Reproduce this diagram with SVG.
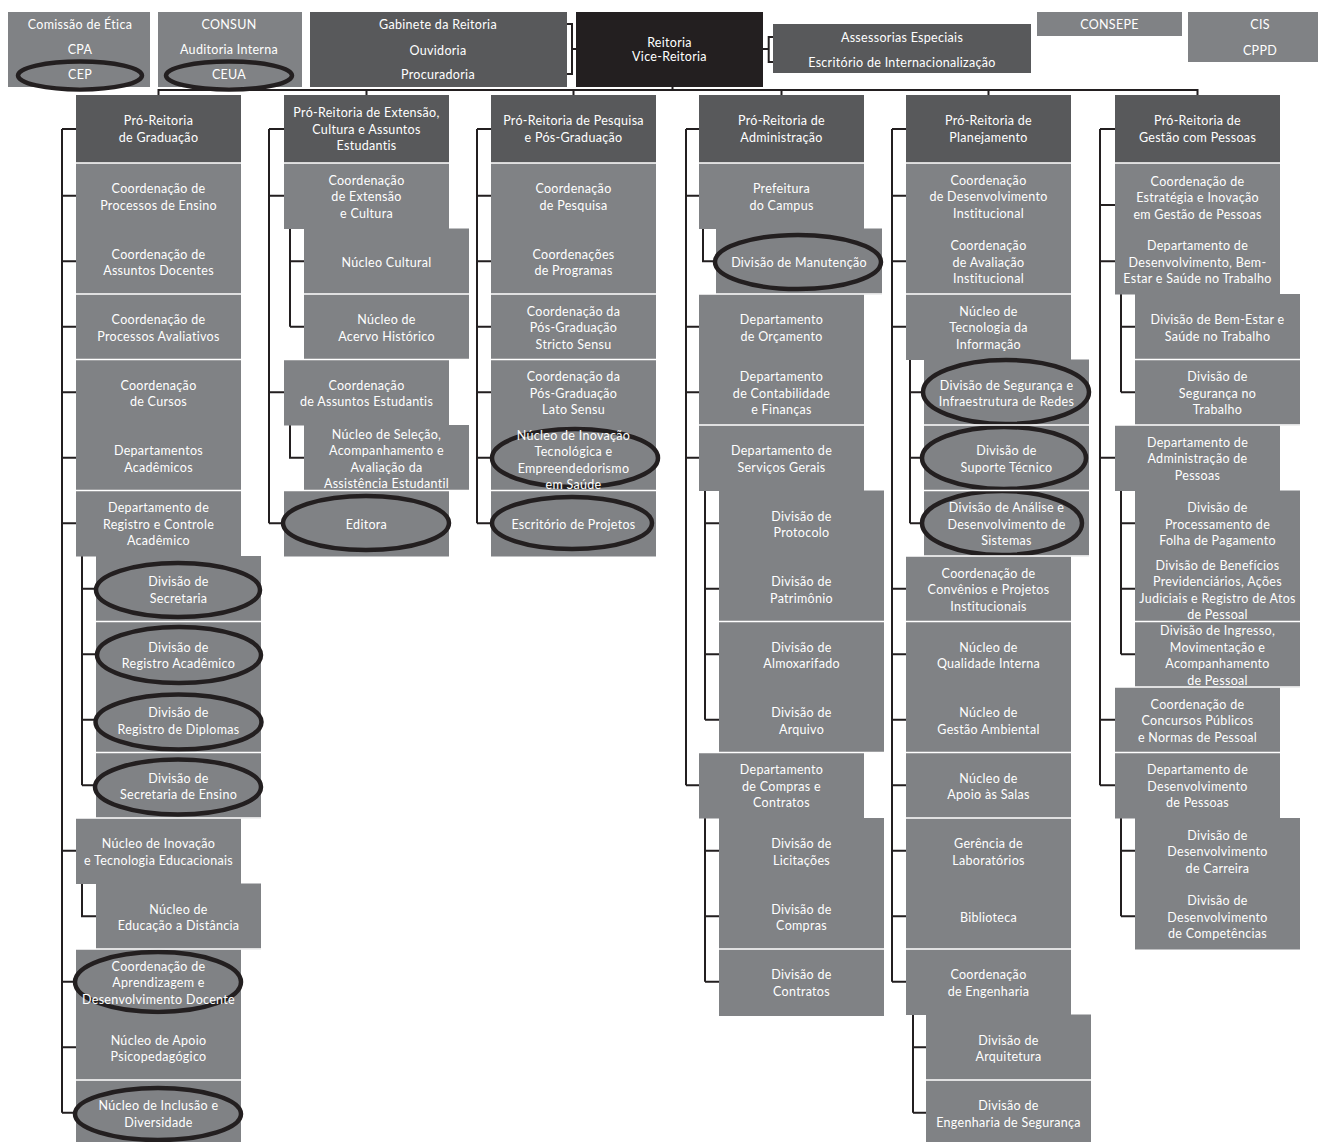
<svg xmlns="http://www.w3.org/2000/svg" width="1318" height="1142" viewBox="0 0 1318 1142">
<style>
.h{fill:#58595b}.l{fill:#808285}.k{fill:#231f20}
.t{font-family:Lato,"Open Sans",sans-serif;font-size:12.5px;letter-spacing:0.3px;fill:#ffffff;text-anchor:middle}
.c{stroke:#231f20;stroke-width:2;fill:none}
.s{stroke:#ffffff;stroke-width:1.5;fill:none}
.e{fill:none;stroke:#231f20;stroke-width:4.5}
</style>
<rect width="1318" height="1142" fill="#ffffff"/>
<g id="connectors">
<path class="c" d="M567,24H572V74H567M572,49H576M773,37H768.7V62H773M763,49H768.7M672.5,87V90M157.5,90H1198.5M158.5,90V95M366.5,90V95M573.5,90V95M781.5,90V95M988.5,90V95M1197.5,90V95"/>
<path class="c" d="M62,129V1112.75M62,129H76M62,195.75H76M62,261.25H76M62,326.75H76M62,392.25H76M62,457.75H76M62,523.25H76M62,850.75H76M62,981.75H76M62,1047.25H76M62,1112.75H76M82,556V785.25M82,588.75H96M82,654.25H96M82,719.75H96M82,785.25H96M82,883.5V916.25H96"/>
<path class="c" d="M269,129V523.25M269,129H284M269,195.75H284M269,392.25H284M269,523.25H284M290,228.5V326.75M290,261.25H304M290,326.75H304M290,425V457.75H304"/>
<path class="c" d="M477,129V523.25M477,129H491M477,195.75H491M477,261.25H491M477,326.75H491M477,392.25H491M477,457.75H491M477,523.25H491"/>
<path class="c" d="M686,129V785.25M686,129H699M686,195.75H699M686,326.75H699M686,392.25H699M686,457.75H699M686,785.25H699M703,228.5V261.25H716M705,490.5V719.75M705,523.25H719M705,588.75H719M705,654.25H719M705,719.75H719M705,818V981.75M705,850.75H719M705,916.25H719M705,981.75H719"/>
<path class="c" d="M892,129V981.75M892,129H906M892,195.75H906M892,261.25H906M892,326.75H906M892,588.75H906M892,654.25H906M892,719.75H906M892,785.25H906M892,850.75H906M892,916.25H906M892,981.75H906M910,359.5V523.25M910,392.25H924M910,457.75H924M910,523.25H924M913,1014.5V1112.75M913,1047.25H926M913,1112.75H926"/>
<path class="c" d="M1100,129V785.25M1100,129H1115M1100,205H1115M1100,261.25H1115M1100,457.75H1115M1100,719.75H1115M1100,785.25H1115M1121,294V392.25M1121,326.75H1135M1121,392.25H1135M1121,490.5V654.25M1121,523.25H1135M1121,588.75H1135M1121,654.25H1135M1121,818V916.25M1121,850.75H1135M1121,916.25H1135"/>
</g>

<g id="comissao"><rect class="l" x="8" y="12" width="142" height="75"/><ellipse class="e" cx="80" cy="75.5" rx="62" ry="14"/><text class="t" x="80" y="28.5">Comissão de Ética</text><text class="t" x="80" y="53.5">CPA</text><text class="t" x="80" y="78.5">CEP</text></g>
<g id="consun"><rect class="l" x="158" y="12" width="144" height="75"/><ellipse class="e" cx="229" cy="75.5" rx="63" ry="14"/><text class="t" x="229" y="28.5">CONSUN</text><text class="t" x="229" y="53.5">Auditoria Interna</text><text class="t" x="229" y="78.5">CEUA</text></g>
<g id="gabinete"><rect class="h" x="310" y="12" width="257" height="75"/><text class="t" x="438" y="28.5">Gabinete da Reitoria</text><text class="t" x="438" y="54.5">Ouvidoria</text><text class="t" x="438" y="78.5">Procuradoria</text></g>
<g id="reitoria"><rect class="k" x="576" y="12" width="187" height="75"/><text class="t" x="669.5" y="46.5">Reitoria</text><text class="t" x="669.5" y="60.5">Vice-Reitoria</text></g>
<g id="assessorias"><rect class="h" x="773" y="24" width="258" height="49"/><text class="t" x="902" y="41.5">Assessorias Especiais</text><text class="t" x="902" y="66.5">Escritório de Internacionalização</text></g>
<g id="consepe"><rect class="l" x="1037" y="12" width="145" height="24"/><text class="t" x="1109.5" y="28.5">CONSEPE</text></g>
<g id="cis"><rect class="l" x="1188" y="12" width="130" height="50"/><text class="t" x="1260" y="28.5">CIS</text><text class="t" x="1260" y="54.5">CPPD</text></g>

<!-- Graduação -->
<g id="prograd"><rect class="h" x="76" y="95" width="165" height="68"/><text class="t" x="158.5" y="125.25"><tspan x="158.5">Pró-Reitoria</tspan><tspan x="158.5" dy="16.5">de Graduação</tspan></text></g>
<g id="g0"><rect class="l" x="76" y="163" width="165" height="66"/><text class="t" y="193"><tspan x="158.5">Coordenação de</tspan><tspan x="158.5" dy="16.5">Processos de Ensino</tspan></text></g>
<g id="g1"><rect class="l" x="76" y="228.5" width="165" height="66"/><text class="t" y="258.5"><tspan x="158.5">Coordenação de</tspan><tspan x="158.5" dy="16.5">Assuntos Docentes</tspan></text></g>
<g id="g2"><rect class="l" x="76" y="294" width="165" height="66"/><text class="t" y="324"><tspan x="158.5">Coordenação de</tspan><tspan x="158.5" dy="16.5">Processos Avaliativos</tspan></text></g>
<g id="g3"><rect class="l" x="76" y="359.5" width="165" height="66"/><text class="t" y="389.5"><tspan x="158.5">Coordenação</tspan><tspan x="158.5" dy="16.5">de Cursos</tspan></text></g>
<g id="g4"><rect class="l" x="76" y="425" width="165" height="66"/><text class="t" y="455"><tspan x="158.5">Departamentos</tspan><tspan x="158.5" dy="16.5">Acadêmicos</tspan></text></g>
<g id="g5"><rect class="l" x="76" y="490.5" width="165" height="66"/><text class="t" y="512.25"><tspan x="158.5">Departamento de</tspan><tspan x="158.5" dy="16.5">Registro e Controle</tspan><tspan x="158.5" dy="16.5">Acadêmico</tspan></text></g>
<g id="g6"><rect class="l" x="96" y="556" width="165" height="66"/><ellipse class="e" cx="178" cy="590" rx="82" ry="27"/><text class="t" y="586"><tspan x="178.5">Divisão de</tspan><tspan x="178.5" dy="16.5">Secretaria</tspan></text></g>
<g id="g7"><rect class="l" x="96" y="621.5" width="165" height="66"/><ellipse class="e" cx="179" cy="655" rx="82" ry="28"/><text class="t" y="651.5"><tspan x="178.5">Divisão de</tspan><tspan x="178.5" dy="16.5">Registro Acadêmico</tspan></text></g>
<g id="g8"><rect class="l" x="96" y="687" width="165" height="66"/><ellipse class="e" cx="178.5" cy="722" rx="83" ry="27.5"/><text class="t" y="717"><tspan x="178.5">Divisão de</tspan><tspan x="178.5" dy="16.5">Registro de Diplomas</tspan></text></g>
<g id="g9"><rect class="l" x="96" y="752.5" width="165" height="66"/><ellipse class="e" cx="178" cy="787" rx="83" ry="27.5"/><text class="t" y="782.5"><tspan x="178.5">Divisão de</tspan><tspan x="178.5" dy="16.5">Secretaria de Ensino</tspan></text></g>
<g id="g10"><rect class="l" x="76" y="818" width="165" height="66"/><text class="t" y="848"><tspan x="158.5">Núcleo de Inovação</tspan><tspan x="158.5" dy="16.5">e Tecnologia Educacionais</tspan></text></g>
<g id="g11"><rect class="l" x="96" y="883.5" width="165" height="66"/><text class="t" y="913.5"><tspan x="178.5">Núcleo de</tspan><tspan x="178.5" dy="16.5">Educação a Distância</tspan></text></g>
<g id="g12"><rect class="l" x="76" y="949" width="165" height="66"/><ellipse class="e" cx="158" cy="982" rx="83" ry="30"/><text class="t" y="970.75"><tspan x="158.5">Coordenação de</tspan><tspan x="158.5" dy="16.5">Aprendizagem e</tspan><tspan x="158.5" dy="16.5">Desenvolvimento Docente</tspan></text></g>
<g id="g13"><rect class="l" x="76" y="1014.5" width="165" height="66"/><text class="t" y="1044.5"><tspan x="158.5">Núcleo de Apoio</tspan><tspan x="158.5" dy="16.5">Psicopedagógico</tspan></text></g>
<g id="g14"><rect class="l" x="76" y="1080" width="165" height="62"/><ellipse class="e" cx="158" cy="1114" rx="83" ry="26"/><text class="t" y="1110"><tspan x="158.5">Núcleo de Inclusão e</tspan><tspan x="158.5" dy="16.5">Diversidade</tspan></text></g>

<!-- Extensão -->
<g id="proext"><rect class="h" x="284" y="95" width="165" height="68"/><text class="t" y="117"><tspan x="366.5">Pró-Reitoria de Extensão,</tspan><tspan x="366.5" dy="16.5">Cultura e Assuntos</tspan><tspan x="366.5" dy="16.5">Estudantis</tspan></text></g>
<g id="x0"><rect class="l" x="284" y="163" width="165" height="66"/><text class="t" y="184.75"><tspan x="366.5">Coordenação</tspan><tspan x="366.5" dy="16.5">de Extensão</tspan><tspan x="366.5" dy="16.5">e Cultura</tspan></text></g>
<g id="x1"><rect class="l" x="304" y="228.5" width="165" height="66"/><text class="t" x="386.5" y="266.75">Núcleo Cultural</text></g>
<g id="x2"><rect class="l" x="304" y="294" width="165" height="66"/><text class="t" y="324"><tspan x="386.5">Núcleo de</tspan><tspan x="386.5" dy="16.5">Acervo Histórico</tspan></text></g>
<g id="x3"><rect class="l" x="284" y="359.5" width="165" height="66"/><text class="t" y="389.5"><tspan x="366.5">Coordenação</tspan><tspan x="366.5" dy="16.5">de Assuntos Estudantis</tspan></text></g>
<g id="x4"><rect class="l" x="304" y="425" width="165" height="66"/><text class="t" y="438.5"><tspan x="386.5">Núcleo de Seleção,</tspan><tspan x="386.5" dy="16.5">Acompanhamento e</tspan><tspan x="386.5" dy="16.5">Avaliação da</tspan><tspan x="386.5" dy="16.5">Assistência Estudantil</tspan></text></g>
<g id="x5"><rect class="l" x="284" y="490.5" width="165" height="66"/><ellipse class="e" cx="366" cy="523" rx="83" ry="27"/><text class="t" x="366.5" y="528.75">Editora</text></g>

<!-- Pesquisa -->
<g id="propesq"><rect class="h" x="491" y="95" width="165" height="68"/><text class="t" y="125.25"><tspan x="573.5">Pró-Reitoria de Pesquisa</tspan><tspan x="573.5" dy="16.5">e Pós-Graduação</tspan></text></g>
<g id="p0"><rect class="l" x="491" y="163" width="165" height="66"/><text class="t" y="193"><tspan x="573.5">Coordenação</tspan><tspan x="573.5" dy="16.5">de Pesquisa</tspan></text></g>
<g id="p1"><rect class="l" x="491" y="228.5" width="165" height="66"/><text class="t" y="258.5"><tspan x="573.5">Coordenações</tspan><tspan x="573.5" dy="16.5">de Programas</tspan></text></g>
<g id="p2"><rect class="l" x="491" y="294" width="165" height="66"/><text class="t" y="315.75"><tspan x="573.5">Coordenação da</tspan><tspan x="573.5" dy="16.5">Pós-Graduação</tspan><tspan x="573.5" dy="16.5">Stricto Sensu</tspan></text></g>
<g id="p3"><rect class="l" x="491" y="359.5" width="165" height="66"/><text class="t" y="381.25"><tspan x="573.5">Coordenação da</tspan><tspan x="573.5" dy="16.5">Pós-Graduação</tspan><tspan x="573.5" dy="16.5">Lato Sensu</tspan></text></g>
<g id="p4"><rect class="l" x="491" y="425" width="165" height="66"/><ellipse class="e" cx="575" cy="458" rx="83" ry="29"/><text class="t" y="439.5"><tspan x="573.5">Núcleo de Inovação</tspan><tspan x="573.5" dy="16.5">Tecnológica e</tspan><tspan x="573.5" dy="16.5">Empreendedorismo</tspan><tspan x="573.5" dy="16.5">em Saúde</tspan></text></g>
<g id="p5"><rect class="l" x="491" y="490.5" width="165" height="66"/><ellipse class="e" cx="572" cy="523" rx="80" ry="26"/><text class="t" x="573.5" y="528.75">Escritório de Projetos</text></g>

<!-- Administração -->
<g id="proad"><rect class="h" x="699" y="95" width="165" height="68"/><text class="t" y="125.25"><tspan x="781.5">Pró-Reitoria de</tspan><tspan x="781.5" dy="16.5">Administração</tspan></text></g>
<g id="a0"><rect class="l" x="699" y="163" width="165" height="66"/><text class="t" y="193"><tspan x="781.5">Prefeitura</tspan><tspan x="781.5" dy="16.5">do Campus</tspan></text></g>
<g id="a1"><rect class="l" x="716" y="228.5" width="166" height="66"/><ellipse class="e" cx="798" cy="262" rx="83" ry="27"/><text class="t" x="799" y="266.75">Divisão de Manutenção</text></g>
<g id="a2"><rect class="l" x="699" y="294" width="165" height="66"/><text class="t" y="324"><tspan x="781.5">Departamento</tspan><tspan x="781.5" dy="16.5">de Orçamento</tspan></text></g>
<g id="a3"><rect class="l" x="699" y="359.5" width="165" height="66"/><text class="t" y="381.25"><tspan x="781.5">Departamento</tspan><tspan x="781.5" dy="16.5">de Contabilidade</tspan><tspan x="781.5" dy="16.5">e Finanças</tspan></text></g>
<g id="a4"><rect class="l" x="699" y="425" width="165" height="66"/><text class="t" y="455"><tspan x="781.5">Departamento de</tspan><tspan x="781.5" dy="16.5">Serviços Gerais</tspan></text></g>
<g id="a5"><rect class="l" x="719" y="490.5" width="165" height="66"/><text class="t" y="520.5"><tspan x="801.5">Divisão de</tspan><tspan x="801.5" dy="16.5">Protocolo</tspan></text></g>
<g id="a6"><rect class="l" x="719" y="556" width="165" height="66"/><text class="t" y="586"><tspan x="801.5">Divisão de</tspan><tspan x="801.5" dy="16.5">Patrimônio</tspan></text></g>
<g id="a7"><rect class="l" x="719" y="621.5" width="165" height="66"/><text class="t" y="651.5"><tspan x="801.5">Divisão de</tspan><tspan x="801.5" dy="16.5">Almoxarifado</tspan></text></g>
<g id="a8"><rect class="l" x="719" y="687" width="165" height="66"/><text class="t" y="717"><tspan x="801.5">Divisão de</tspan><tspan x="801.5" dy="16.5">Arquivo</tspan></text></g>
<g id="a9"><rect class="l" x="699" y="752.5" width="165" height="66"/><text class="t" y="774.25"><tspan x="781.5">Departamento</tspan><tspan x="781.5" dy="16.5">de Compras e</tspan><tspan x="781.5" dy="16.5">Contratos</tspan></text></g>
<g id="a10"><rect class="l" x="719" y="818" width="165" height="66"/><text class="t" y="848"><tspan x="801.5">Divisão de</tspan><tspan x="801.5" dy="16.5">Licitações</tspan></text></g>
<g id="a11"><rect class="l" x="719" y="883.5" width="165" height="66"/><text class="t" y="913.5"><tspan x="801.5">Divisão de</tspan><tspan x="801.5" dy="16.5">Compras</tspan></text></g>
<g id="a12"><rect class="l" x="719" y="949" width="165" height="67"/><text class="t" y="979"><tspan x="801.5">Divisão de</tspan><tspan x="801.5" dy="16.5">Contratos</tspan></text></g>

<!-- Planejamento -->
<g id="proplan"><rect class="h" x="906" y="95" width="165" height="68"/><text class="t" y="125.25"><tspan x="988.5">Pró-Reitoria de</tspan><tspan x="988.5" dy="16.5">Planejamento</tspan></text></g>
<g id="n0"><rect class="l" x="906" y="163" width="165" height="66"/><text class="t" y="184.75"><tspan x="988.5">Coordenação</tspan><tspan x="988.5" dy="16.5">de Desenvolvimento</tspan><tspan x="988.5" dy="16.5">Institucional</tspan></text></g>
<g id="n1"><rect class="l" x="906" y="228.5" width="165" height="66"/><text class="t" y="250.25"><tspan x="988.5">Coordenação</tspan><tspan x="988.5" dy="16.5">de Avaliação</tspan><tspan x="988.5" dy="16.5">Institucional</tspan></text></g>
<g id="n2"><rect class="l" x="906" y="294" width="165" height="66"/><text class="t" y="315.75"><tspan x="988.5">Núcleo de</tspan><tspan x="988.5" dy="16.5">Tecnologia da</tspan><tspan x="988.5" dy="16.5">Informação</tspan></text></g>
<g id="n3"><rect class="l" x="924" y="359.5" width="165" height="66"/><ellipse class="e" cx="1006" cy="392" rx="83" ry="32"/><text class="t" y="389.5"><tspan x="1006.5">Divisão de Segurança e</tspan><tspan x="1006.5" dy="16.5">Infraestrutura de Redes</tspan></text></g>
<g id="n4"><rect class="l" x="924" y="425" width="165" height="66"/><ellipse class="e" cx="1004" cy="458" rx="82" ry="31"/><text class="t" y="455"><tspan x="1006.5">Divisão de</tspan><tspan x="1006.5" dy="16.5">Suporte Técnico</tspan></text></g>
<g id="n5"><rect class="l" x="924" y="490.5" width="165" height="66"/><ellipse class="e" cx="1002" cy="523" rx="80" ry="32"/><text class="t" y="512.25"><tspan x="1006.5">Divisão de Análise e</tspan><tspan x="1006.5" dy="16.5">Desenvolvimento de</tspan><tspan x="1006.5" dy="16.5">Sistemas</tspan></text></g>
<g id="n6"><rect class="l" x="906" y="556" width="165" height="66"/><text class="t" y="577.75"><tspan x="988.5">Coordenação de</tspan><tspan x="988.5" dy="16.5">Convênios e Projetos</tspan><tspan x="988.5" dy="16.5">Institucionais</tspan></text></g>
<g id="n7"><rect class="l" x="906" y="621.5" width="165" height="66"/><text class="t" y="651.5"><tspan x="988.5">Núcleo de</tspan><tspan x="988.5" dy="16.5">Qualidade Interna</tspan></text></g>
<g id="n8"><rect class="l" x="906" y="687" width="165" height="66"/><text class="t" y="717"><tspan x="988.5">Núcleo de</tspan><tspan x="988.5" dy="16.5">Gestão Ambiental</tspan></text></g>
<g id="n9"><rect class="l" x="906" y="752.5" width="165" height="66"/><text class="t" y="782.5"><tspan x="988.5">Núcleo de</tspan><tspan x="988.5" dy="16.5">Apoio às Salas</tspan></text></g>
<g id="n10"><rect class="l" x="906" y="818" width="165" height="66"/><text class="t" y="848"><tspan x="988.5">Gerência de</tspan><tspan x="988.5" dy="16.5">Laboratórios</tspan></text></g>
<g id="n11"><rect class="l" x="906" y="883.5" width="165" height="66"/><text class="t" x="988.5" y="921.75">Biblioteca</text></g>
<g id="n12"><rect class="l" x="906" y="949" width="165" height="66"/><text class="t" y="979"><tspan x="988.5">Coordenação</tspan><tspan x="988.5" dy="16.5">de Engenharia</tspan></text></g>
<g id="n13"><rect class="l" x="926" y="1014.5" width="165" height="66"/><text class="t" y="1044.5"><tspan x="1008.5">Divisão de</tspan><tspan x="1008.5" dy="16.5">Arquitetura</tspan></text></g>
<g id="n14"><rect class="l" x="926" y="1080" width="165" height="62"/><text class="t" y="1110"><tspan x="1008.5">Divisão de</tspan><tspan x="1008.5" dy="16.5">Engenharia de Segurança</tspan></text></g>

<!-- Gestão com Pessoas -->
<g id="progep"><rect class="h" x="1115" y="95" width="165" height="68"/><text class="t" y="125.25"><tspan x="1197.5">Pró-Reitoria de</tspan><tspan x="1197.5" dy="16.5">Gestão com Pessoas</tspan></text></g>
<g id="q0"><rect class="l" x="1115" y="163" width="165" height="66"/><text class="t" y="185.75"><tspan x="1197.5">Coordenação de</tspan><tspan x="1197.5" dy="16.5">Estratégia e Inovação</tspan><tspan x="1197.5" dy="16.5">em Gestão de Pessoas</tspan></text></g>
<g id="q1"><rect class="l" x="1115" y="228.5" width="165" height="66"/><text class="t" y="250.25"><tspan x="1197.5">Departamento de</tspan><tspan x="1197.5" dy="16.5">Desenvolvimento, Bem-</tspan><tspan x="1197.5" dy="16.5">Estar e Saúde no Trabalho</tspan></text></g>
<g id="q2"><rect class="l" x="1135" y="294" width="165" height="66"/><text class="t" y="324"><tspan x="1217.5">Divisão de Bem-Estar e</tspan><tspan x="1217.5" dy="16.5">Saúde no Trabalho</tspan></text></g>
<g id="q3"><rect class="l" x="1135" y="359.5" width="165" height="66"/><text class="t" y="381.25"><tspan x="1217.5">Divisão de</tspan><tspan x="1217.5" dy="16.5">Segurança no</tspan><tspan x="1217.5" dy="16.5">Trabalho</tspan></text></g>
<g id="q4"><rect class="l" x="1115" y="425" width="165" height="66"/><text class="t" y="446.75"><tspan x="1197.5">Departamento de</tspan><tspan x="1197.5" dy="16.5">Administração de</tspan><tspan x="1197.5" dy="16.5">Pessoas</tspan></text></g>
<g id="q5"><rect class="l" x="1135" y="490.5" width="165" height="66"/><text class="t" y="512.25"><tspan x="1217.5">Divisão de</tspan><tspan x="1217.5" dy="16.5">Processamento de</tspan><tspan x="1217.5" dy="16.5">Folha de Pagamento</tspan></text></g>
<g id="q6"><rect class="l" x="1135" y="556" width="165" height="66"/><text class="t" y="569.5"><tspan x="1217.5">Divisão de Benefícios</tspan><tspan x="1217.5" dy="16.5">Previdenciários, Ações</tspan><tspan x="1217.5" dy="16.5">Judiciais e Registro de Atos</tspan><tspan x="1217.5" dy="16.5">de Pessoal</tspan></text></g>
<g id="q7"><rect class="l" x="1135" y="621.5" width="165" height="66"/><text class="t" y="635"><tspan x="1217.5">Divisão de Ingresso,</tspan><tspan x="1217.5" dy="16.5">Movimentação e</tspan><tspan x="1217.5" dy="16.5">Acompanhamento</tspan><tspan x="1217.5" dy="16.5">de Pessoal</tspan></text></g>
<g id="q8"><rect class="l" x="1115" y="687" width="165" height="66"/><text class="t" y="708.75"><tspan x="1197.5">Coordenação de</tspan><tspan x="1197.5" dy="16.5">Concursos Públicos</tspan><tspan x="1197.5" dy="16.5">e Normas de Pessoal</tspan></text></g>
<g id="q9"><rect class="l" x="1115" y="752.5" width="165" height="66"/><text class="t" y="774.25"><tspan x="1197.5">Departamento de</tspan><tspan x="1197.5" dy="16.5">Desenvolvimento</tspan><tspan x="1197.5" dy="16.5">de Pessoas</tspan></text></g>
<g id="q10"><rect class="l" x="1135" y="818" width="165" height="66"/><text class="t" y="839.75"><tspan x="1217.5">Divisão de</tspan><tspan x="1217.5" dy="16.5">Desenvolvimento</tspan><tspan x="1217.5" dy="16.5">de Carreira</tspan></text></g>
<g id="q11"><rect class="l" x="1135" y="883.5" width="165" height="66"/><text class="t" y="905.25"><tspan x="1217.5">Divisão de</tspan><tspan x="1217.5" dy="16.5">Desenvolvimento</tspan><tspan x="1217.5" dy="16.5">de Competências</tspan></text></g>

<g id="separators">
<path class="s" d="M76,163H241M284,163H449M491,163H656M699,163H864M906,163H1071M1115,163H1280"/>
<path class="s" d="M76,294H241M76,359.5H241M76,490.5H241M96,621.5H261M96,752.5H261M76,818H261M76,949H261M76,1080H241"/>
<path class="s" d="M304,294H469M284,359.5H469M284,490.5H469"/>
<path class="s" d="M491,294H656M491,359.5H656M491,490.5H656"/>
<path class="s" d="M699,294H882M699,425H864M719,621.5H884M699,752.5H884M719,949H884"/>
<path class="s" d="M906,294H1071M924,425H1089M924,490.5H1089M906,556H1089M906,621.5H1071M906,752.5H1071M906,818H1071M906,949H1071M926,1080H1091"/>
<path class="s" d="M1135,359.5H1300M1115,425H1300M1135,621.5H1300M1115,687H1300M1115,752.5H1280"/>
</g>
</svg>
